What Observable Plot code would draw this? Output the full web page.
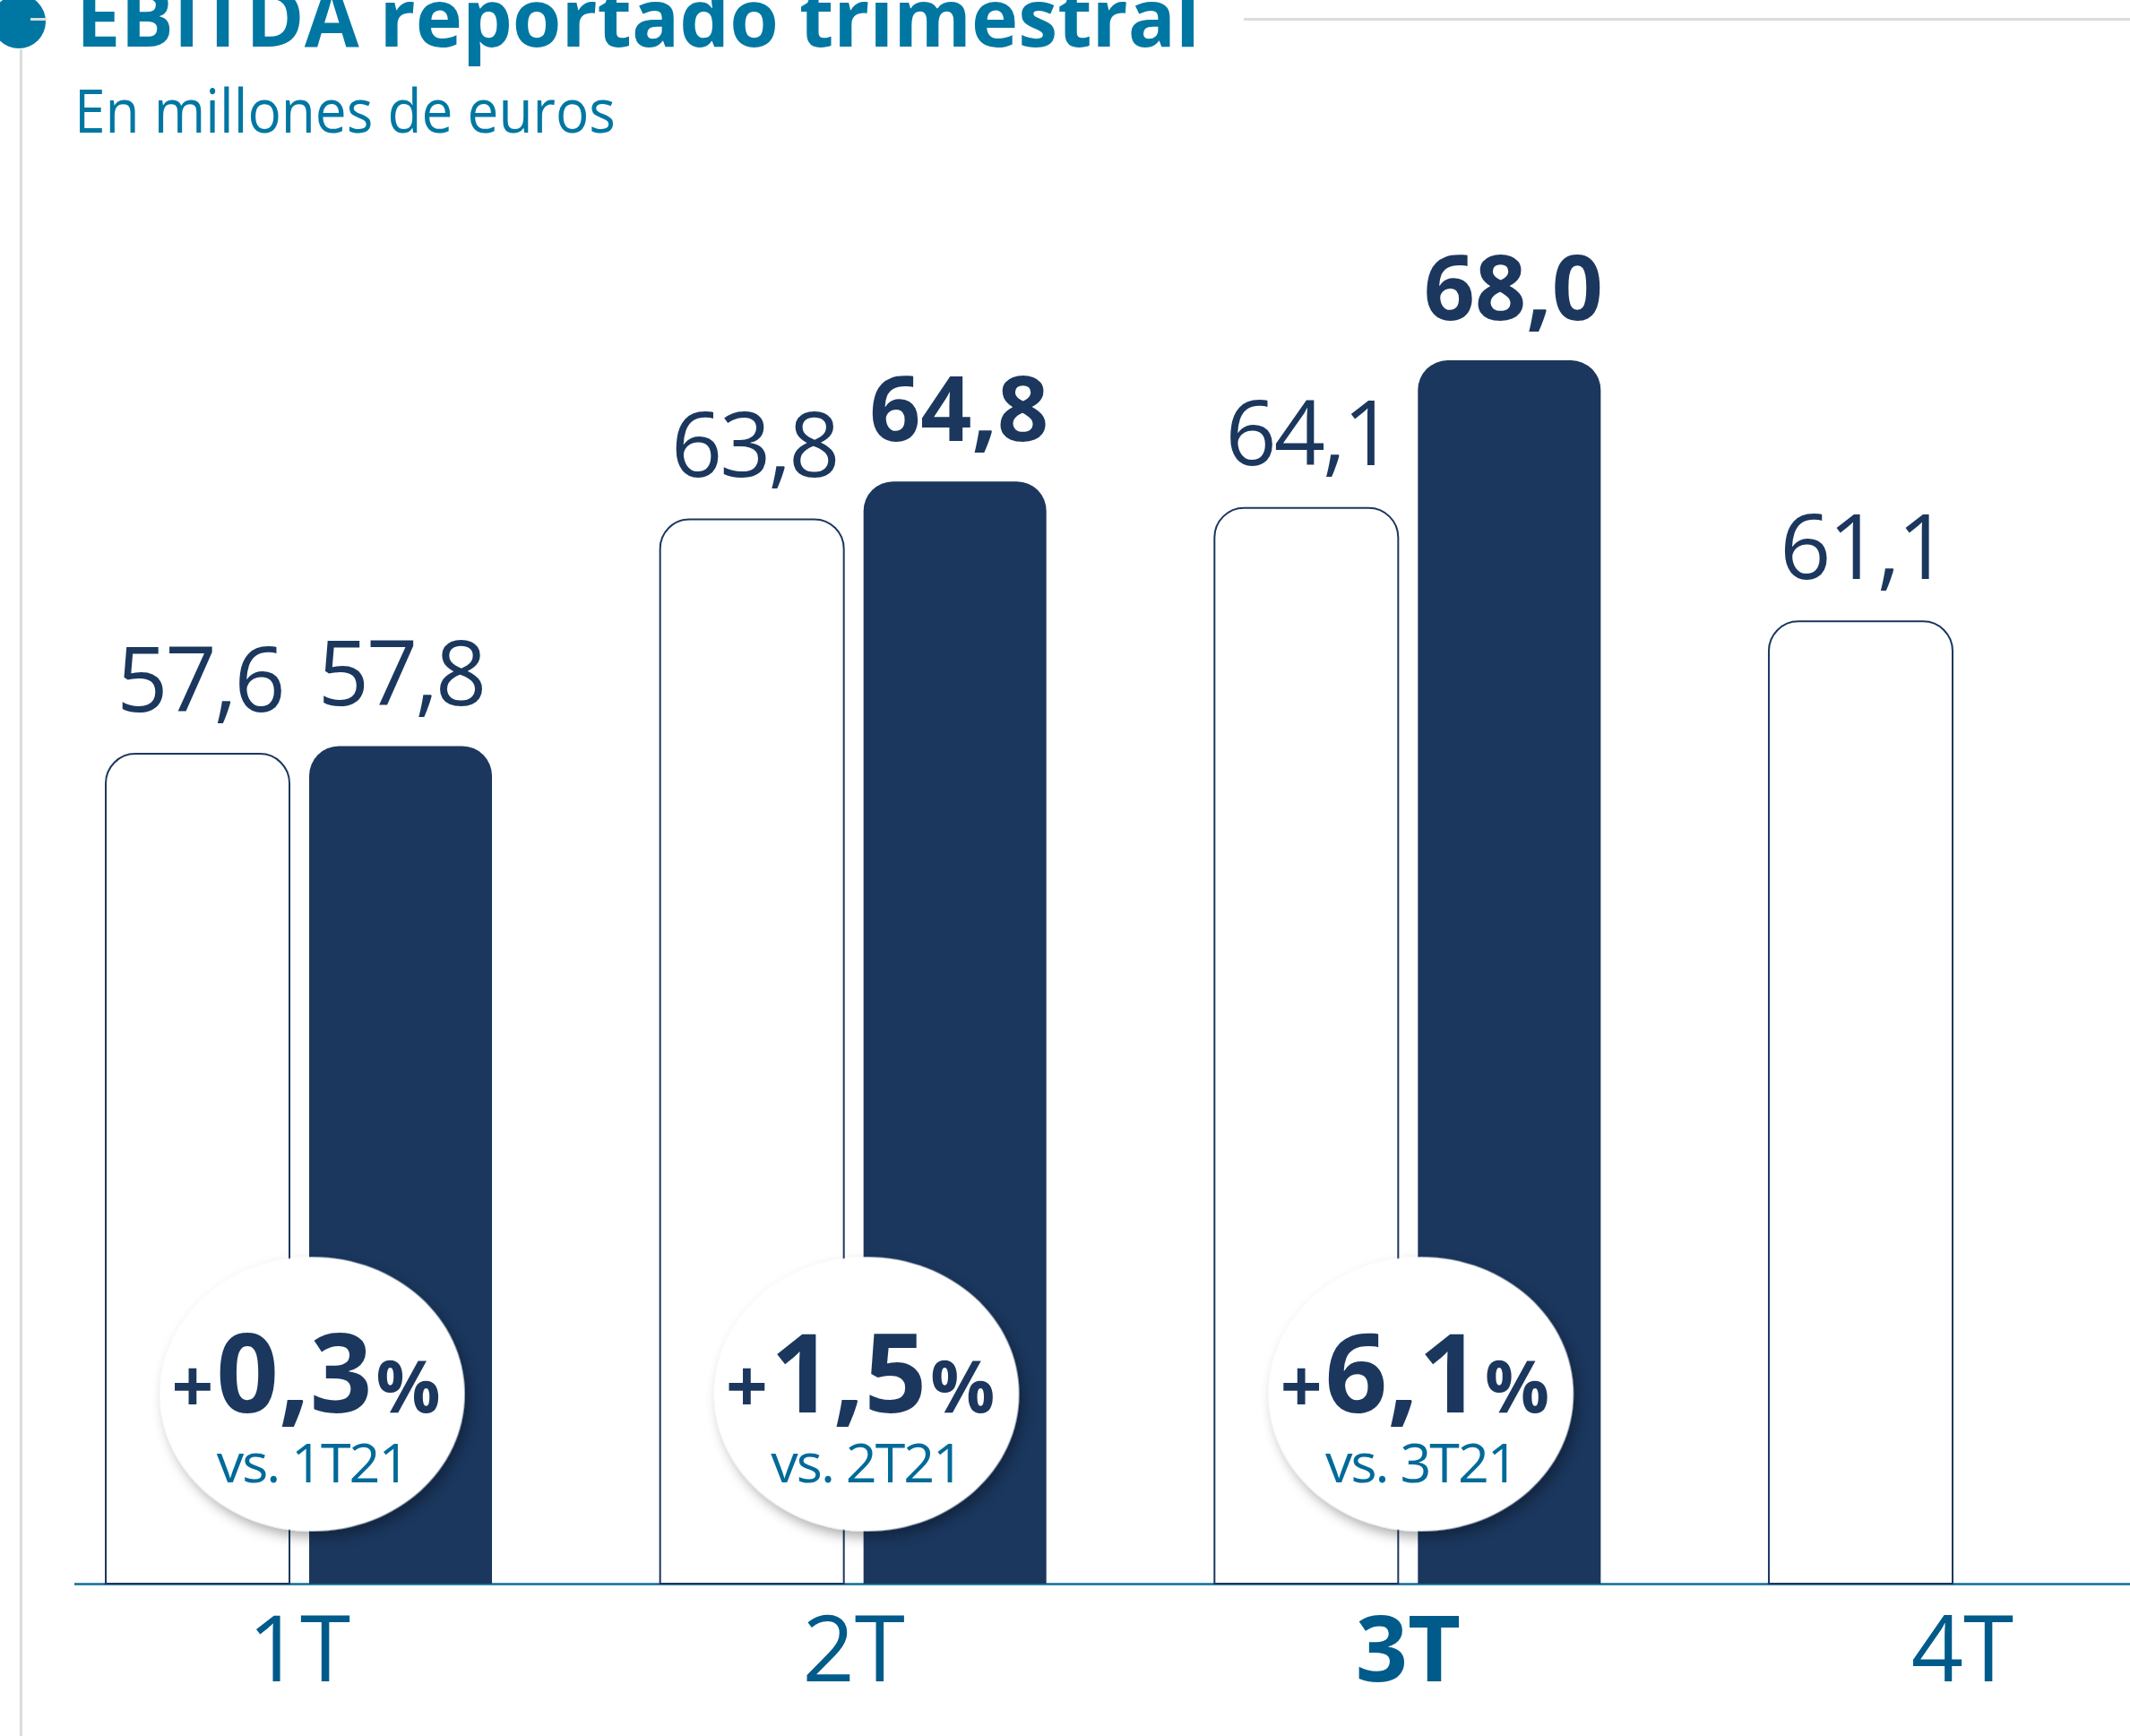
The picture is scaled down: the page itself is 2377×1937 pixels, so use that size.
<!DOCTYPE html>
<html><head><meta charset="utf-8">
<script src="https://cdn.jsdelivr.net/npm/d3@7"></script>
<script src="https://cdn.jsdelivr.net/npm/@observablehq/plot@0.6"></script>
<style>
html,body{margin:0;padding:0;background:#fff;overflow:hidden;width:2377px;height:1937px;}
body{position:relative;font-family:"Open Sans",sans-serif;}
#header{position:relative;height:170px;width:2377px;overflow:hidden;}
.bullet{position:absolute;left:-9px;top:-6px;width:60px;height:60px;border-radius:50%;background:#0077a3;}
.dash{position:absolute;left:34px;top:20px;width:18px;height:3px;background:#dcdcdc;}
.hrule{position:absolute;left:1388px;top:20px;width:1000px;height:3px;background:#dcdcdc;}
#title{position:absolute;left:85px;top:-28px;font-size:90px;line-height:90px;font-weight:700;color:#0077a3;white-space:nowrap;transform-origin:0 0;display:inline-block;}
#subtitle{position:absolute;left:83px;top:89px;font-size:67px;line-height:67px;font-weight:400;color:#0077a3;white-space:nowrap;transform-origin:0 0;display:inline-block;}
.vline{position:absolute;left:22px;top:55px;width:3px;height:1900px;background:#dcdcdc;z-index:2;}
#chart svg{display:block;}
</style></head><body>
<div id="header">
  <div class="bullet"></div><div class="dash"></div><div class="hrule"></div>
  <div id="title">EBITDA reportado trimestral</div>
  <div id="subtitle">En millones de euros</div>
</div>
<div id="chart"></div>
<div class="vline"></div>
<script>
// ---- data ----
const quarters = ["1T", "2T", "3T", "4T"];
const ebitda2021 = [57.6, 63.8, 64.1, 61.1];
const ebitda2022 = [57.8, 64.8, 68.0, null];
const changeQuarters = ["1T", "2T", "3T"];
const changePct = [0.3, 1.5, 6.1];
const changeRef = ["vs. 1T21", "vs. 2T21", "vs. 3T21"];
const currentQuarter = "3T";

// ---- styling choices ----
const boldValueQuarters = ["2T", "3T"]; // 2022 labels shown in bold

// ---- helpers ----
const fmt = v => d3.format(".1f")(v).replace(".", ",");
const rows2021 = quarters.map((q, i) => ({q, v: ebitda2021[i]}));
const rows2022 = quarters.map((q, i) => ({q, v: ebitda2022[i]})).filter(d => d.v != null);
const badges = changeQuarters.map((q, i) => ({q, pct: "+" + fmt(changePct[i]) + "%", ref: changeRef[i]}));

const W = 2377, H = 1767;
const NAVY = "#1b375e", TEAL = "#0e6d9c", AXIS = "#005b8a", REF = "#006a99";
const Y0 = 35.66, Y1 = 73.5;
const BAND = 431, BARW = 205, GAP = 22;

const ellipse = {
  draw(ctx, size) {
    const ry = Math.sqrt(size / Math.PI), rx = ry * 1.111, k = 0.5523;
    ctx.moveTo(rx, 0);
    ctx.bezierCurveTo(rx, k * ry, k * rx, ry, 0, ry);
    ctx.bezierCurveTo(-k * rx, ry, -rx, k * ry, -rx, 0);
    ctx.bezierCurveTo(-rx, -k * ry, -k * rx, -ry, 0, -ry);
    ctx.bezierCurveTo(k * rx, -ry, rx, -k * ry, rx, 0);
    ctx.closePath();
  }
};

const darkDx = BARW + GAP + (BAND - BARW - GAP) / 2 - BAND / 2;
const svg = Plot.plot({
  width: W, height: H,
  marginLeft: 83, marginRight: -63, marginTop: 0, marginBottom: 170,
  style: {fontFamily: "Open Sans", background: "white", overflow: "hidden"},
  x: {type: "band", domain: quarters, paddingInner: 0.3033, paddingOuter: 0.0566, round: false, axis: null},
  y: {domain: [Y0, Y1], axis: null},
  marks: [
    Plot.ruleY([Y0], {stroke: TEAL, strokeWidth: 2.5}),
    Plot.barY(rows2021, {x: "q", y1: Y0, y2: "v", fill: "white", stroke: NAVY, strokeWidth: 2,
      insetRight: BAND - BARW, ry1: 33}),
    Plot.barY(rows2022, {x: "q", y1: Y0, y2: "v", fill: NAVY, insetLeft: BARW + GAP, ry1: 33}),
    Plot.text(rows2021, {x: "q", y: "v", text: d => fmt(d.v), dx: BARW / 2 - BAND / 2 + 2, dy: -48,
      lineAnchor: "bottom", fontSize: 100, fontWeight: 400, fill: NAVY}),
    Plot.text(rows2022.filter(d => !boldValueQuarters.includes(d.q)), {x: "q", y: "v", text: d => fmt(d.v), dx: darkDx, dy: -46,
      lineAnchor: "bottom", fontSize: 100, fontWeight: 400, fill: NAVY}),
    Plot.text(rows2022.filter(d => boldValueQuarters.includes(d.q)), {x: "q", y: "v", text: d => fmt(d.v), dx: darkDx + 4, dy: -46,
      lineAnchor: "bottom", fontSize: 100, fontWeight: 700, fill: NAVY}),
    Plot.dot(badges, {x: "q", frameAnchor: "bottom", dx: BARW + GAP + 3 - BAND / 2, dy: -212,
      r: 153, symbol: ellipse, fill: "white", stroke: "none"}),
    Plot.text(badges, {x: "q", frameAnchor: "bottom", text: "pct", dx: BARW + GAP - 4 - BAND / 2, dy: -192,
      lineAnchor: "bottom", fontSize: 122, fontWeight: 700, fill: NAVY}),
    Plot.text(badges, {x: "q", frameAnchor: "bottom", text: "ref", dx: BARW + GAP + 3 - BAND / 2, dy: -114,
      lineAnchor: "bottom", fontSize: 61, fontWeight: 400, fill: REF}),
    Plot.text(quarters.filter(q => q !== currentQuarter), {x: d => d, text: d => d, frameAnchor: "bottom",
      dy: 108, lineAnchor: "bottom", fontSize: 102, fontWeight: 400, fill: AXIS}),
    Plot.text([currentQuarter], {x: d => d, text: d => d, frameAnchor: "bottom",
      dy: 108, lineAnchor: "bottom", fontSize: 102, fontWeight: 700, fill: AXIS})
  ]
});
document.getElementById("chart").appendChild(svg);

const s = d3.select(svg);
// drop shadow for badges
const defs = s.insert("defs", ":first-child");
defs.append("filter").attr("id", "badgeShadow").attr("x", "-30%").attr("y", "-30%").attr("width", "160%").attr("height", "160%")
  .append("feDropShadow").attr("dx", 5).attr("dy", 7).attr("stdDeviation", 7)
  .attr("flood-color", "#000").attr("flood-opacity", 0.33);
s.selectAll('g[aria-label="dot"]').attr("filter", "url(#badgeShadow)");

// text tweaks: mixed sizes in "+x,y%", tighter regular numbers
s.selectAll("text").each(function () {
  const t = d3.select(this);
  const txt = this.textContent;
  const m = /^(\+)(.+)(%)$/.exec(txt);
  if (m) {
    t.text("");
    t.append("tspan").attr("font-size", 82).text(m[1]);
    t.append("tspan").attr("dx", 3).text(m[2]);
    t.append("tspan").attr("dx", 4).attr("font-size", 80).text(m[3]);
    return;
  }
  const weight = this.getAttribute("font-weight") || (this.parentNode && this.parentNode.getAttribute("font-weight"));
  if (/^\d+,\d$/.test(txt) && String(weight) !== "700") t.attr("letter-spacing", -3);
  if (/^vs\./.test(txt)) t.attr("letter-spacing", -2);
});

// condense header text to match widths
function fit(id, target) {
  const el = document.getElementById(id);
  const w = el.getBoundingClientRect().width;
  el.style.transform = `scaleX(${target / w})`;
}
fit("title", 1254);
fit("subtitle", 604);
</script>
</body></html>
